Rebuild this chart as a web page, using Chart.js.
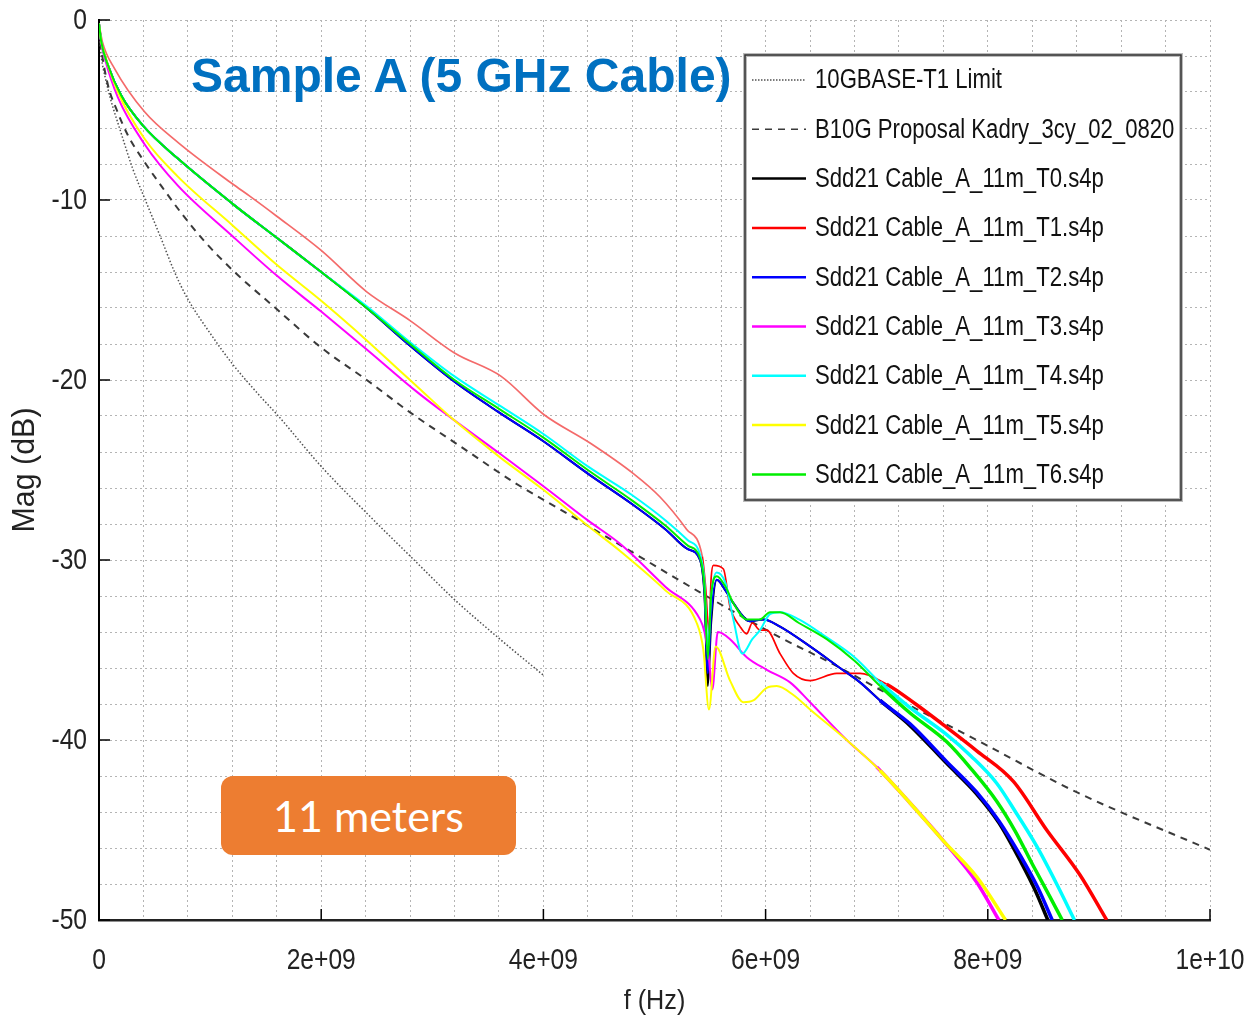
<!DOCTYPE html>
<html>
<head>
<meta charset="utf-8">
<script src="https://cdn.jsdelivr.net/npm/chart.js@4.4.1/dist/chart.umd.min.js"></script>
<style>
  body { margin: 0; background: #fff; }
  #wrap { position: relative; width: 1249px; height: 1020px; }
  #title { position: absolute; left: 191px; top: 52px; font: bold 48px "Liberation Sans", Arial, sans-serif; line-height: 48px; color: #0070c0; white-space: nowrap; }
  #tag { position: absolute; left: 221px; top: 776px; width: 295px; height: 79px; border-radius: 12px; background: #ed7d31; color: #fff; font: 43px Lato, sans-serif; display: flex; align-items: center; justify-content: center; }
</style>
</head>
<body>
<div id="wrap">
  <canvas id="myChart"></canvas>
  <div id="title">Sample A (5 GHz Cable)</div>
  <div id="tag">11 meters</div>
</div>
<script>
// frequencies in GHz, magnitudes in dB
var fLimit = [0, 0.02, 0.06, 0.1, 0.2, 0.3, 0.41, 0.55, 0.68, 0.79, 1.0, 1.2, 1.45, 1.6, 2.0, 2.41, 2.82, 3.2, 3.59, 4.0];
var dbLimit = [-0.6, -2.0, -3.3, -4.3, -6.3, -8.2, -9.9, -12.0, -14.0, -15.4, -17.4, -19.1, -20.9, -21.9, -24.8, -27.4, -29.9, -32.2, -34.3, -36.4];

var fProp = [0, 0.02, 0.08, 0.16, 0.26, 0.4, 0.57, 0.75, 0.95, 1.22, 1.57, 2.0, 2.41, 2.8, 3.28, 3.74, 4.21, 4.7, 5.41, 6.13, 6.55, 7.21, 7.93, 8.8, 10.0];
var dbProp = [-0.5, -1.6, -3.6, -5.0, -6.4, -7.8, -9.3, -10.8, -12.3, -14.0, -15.9, -18.2, -20.0, -21.8, -23.8, -25.7, -27.4, -29.2, -31.8, -34.3, -35.6, -37.8, -40.1, -42.9, -46.1];

var fT0 = [0, 0.02, 0.08, 0.2, 0.4, 0.71, 1.2, 1.6, 2.0, 2.41, 2.8, 3.2, 3.6, 4.0, 4.4, 4.8, 5.1, 5.3, 5.41, 5.45, 5.48, 5.51, 5.56, 5.64, 5.71, 5.86, 5.98, 6.13, 6.4, 6.67, 6.85, 7.03, 7.3, 7.63, 7.9, 8.1, 8.3, 8.43, 8.54];
var dbT0 = [-0.2, -1.2, -2.5, -4.2, -5.9, -7.7, -10.2, -12.1, -14.0, -16.0, -18.1, -20.1, -21.8, -23.4, -25.2, -26.9, -28.3, -29.4, -30.0, -32.0, -37.0, -33.5, -31.1, -31.7, -32.4, -33.4, -33.3, -33.7, -34.8, -36.0, -36.8, -37.8, -39.2, -41.3, -43.0, -44.6, -46.8, -48.4, -50.0];

var fT1 = [0, 0.03, 0.14, 0.41, 0.71, 1.2, 1.36, 1.6, 2.0, 2.41, 2.8, 3.2, 3.62, 4.0, 4.42, 4.81, 5.05, 5.29, 5.43, 5.46, 5.49, 5.51, 5.53, 5.62, 5.68, 5.77, 5.83, 5.88, 5.95, 6.01, 6.13, 6.25, 6.4, 6.64, 6.85, 7.09, 7.35, 7.63, 7.9, 8.23, 8.53, 8.83, 9.07];
var dbT1 = [-0.2, -1.2, -2.7, -5.1, -6.8, -9.1, -9.8, -10.9, -12.8, -15.1, -16.7, -18.5, -19.8, -21.9, -23.5, -25.2, -26.5, -28.3, -29.8, -31.5, -34.0, -31.0, -30.3, -30.5, -32.6, -33.7, -34.1, -33.5, -33.9, -33.9, -35.2, -36.3, -36.7, -36.3, -36.3, -36.9, -38.0, -39.3, -40.6, -42.3, -45.0, -47.5, -50.0];

var fT2 = [0, 0.02, 0.08, 0.2, 0.4, 0.71, 1.2, 1.6, 2.0, 2.41, 2.8, 3.2, 3.6, 4.0, 4.4, 4.8, 5.1, 5.3, 5.41, 5.45, 5.48, 5.51, 5.56, 5.64, 5.71, 5.86, 5.98, 6.13, 6.4, 6.67, 6.85, 7.03, 7.3, 7.63, 7.9, 8.1, 8.3, 8.45, 8.58];
var dbT2 = [-0.2, -1.2, -2.5, -4.2, -5.9, -7.7, -10.2, -12.1, -14.0, -16.0, -18.1, -20.1, -21.8, -23.4, -25.2, -26.9, -28.3, -29.4, -30.0, -31.8, -36.3, -33.0, -31.1, -31.7, -32.4, -33.4, -33.3, -33.7, -34.8, -36.0, -36.8, -37.8, -39.1, -41.2, -42.9, -44.5, -46.5, -48.2, -50.0];

var fT3 = [0, 0.02, 0.05, 0.17, 0.41, 0.71, 1.2, 1.6, 2.0, 2.41, 2.87, 3.19, 3.61, 4.0, 4.4, 4.69, 5.1, 5.41, 5.45, 5.49, 5.52, 5.57, 5.68, 5.83, 6.01, 6.22, 6.4, 6.73, 7.0, 7.3, 7.6, 7.9, 8.1];
var dbT3 = [-0.2, -1.3, -2.1, -4.3, -6.9, -9.2, -12.0, -14.2, -16.2, -18.3, -20.7, -22.2, -24.1, -25.9, -27.8, -29.1, -31.5, -33.3, -34.0, -35.5, -37.2, -34.0, -34.4, -35.4, -36.1, -36.8, -37.9, -40.0, -41.5, -43.5, -45.6, -47.9, -50.0];

var fT4 = [0, 0.02, 0.08, 0.2, 0.4, 0.71, 1.2, 1.6, 2.0, 2.41, 2.8, 3.2, 3.6, 4.0, 4.4, 4.8, 5.1, 5.3, 5.41, 5.45, 5.48, 5.51, 5.56, 5.64, 5.71, 5.79, 5.88, 5.95, 6.04, 6.13, 6.3, 6.55, 6.8, 7.03, 7.3, 7.63, 7.85, 8.08, 8.25, 8.44, 8.62, 8.78];
var dbT4 = [-0.2, -1.2, -2.5, -4.2, -5.9, -7.7, -10.2, -12.1, -14.0, -15.9, -17.9, -19.8, -21.4, -23.0, -24.8, -26.4, -27.8, -28.9, -29.7, -31.2, -35.0, -32.0, -30.7, -31.3, -33.3, -35.2, -34.4, -33.9, -33.0, -32.9, -33.3, -34.3, -35.4, -36.8, -38.2, -39.7, -40.9, -42.4, -44.0, -45.9, -48.0, -50.0];

var fT5 = [0, 0.02, 0.05, 0.17, 0.41, 0.71, 1.2, 1.6, 2.0, 2.41, 2.71, 2.87, 3.19, 3.61, 4.0, 4.4, 4.69, 5.1, 5.38, 5.44, 5.49, 5.55, 5.68, 5.8, 5.89, 6.01, 6.1, 6.25, 6.4, 6.73, 7.03, 7.3, 7.6, 7.9, 8.16];
var dbT5 = [-0.2, -1.2, -1.9, -4.0, -6.6, -8.7, -11.4, -13.6, -15.6, -17.8, -19.5, -20.4, -22.2, -24.3, -26.1, -28.1, -29.5, -31.7, -33.5, -35.0, -38.3, -34.8, -36.7, -37.9, -37.8, -37.1, -37.0, -37.5, -38.3, -40.0, -41.7, -43.5, -45.6, -47.6, -50.0];

var fT6 = [0, 0.02, 0.08, 0.2, 0.4, 0.71, 1.2, 1.6, 2.0, 2.41, 2.8, 3.2, 3.6, 4.0, 4.4, 4.8, 5.1, 5.3, 5.41, 5.45, 5.48, 5.51, 5.56, 5.64, 5.71, 5.83, 5.95, 6.04, 6.13, 6.3, 6.55, 6.8, 7.03, 7.3, 7.63, 7.85, 8.08, 8.25, 8.41, 8.55, 8.67];
var dbT6 = [-0.2, -1.2, -2.5, -4.2, -5.9, -7.7, -10.2, -12.1, -14.0, -16.0, -18.0, -20.0, -21.6, -23.2, -25.0, -26.7, -28.1, -29.2, -29.9, -31.5, -35.5, -32.0, -30.9, -31.5, -32.4, -33.3, -33.3, -32.9, -32.9, -33.5, -34.4, -35.6, -37.0, -38.5, -40.1, -41.6, -43.4, -45.1, -47.0, -48.6, -50.0];

var names = ['10GBASE-T1 Limit', 'B10G Proposal Kadry_3cy_02_0820',
  'Sdd21 Cable_A_11m_T0.s4p', 'Sdd21 Cable_A_11m_T1.s4p', 'Sdd21 Cable_A_11m_T2.s4p',
  'Sdd21 Cable_A_11m_T3.s4p', 'Sdd21 Cable_A_11m_T4.s4p', 'Sdd21 Cable_A_11m_T5.s4p',
  'Sdd21 Cable_A_11m_T6.s4p'];
var colors = ['#505050', '#3a3a3a', '#000000', '#ff0000', '#0000ff', '#ff00ff', '#00ffff', '#ffff00', '#00ee00'];

var xMajor = [0, 2e9, 4e9, 6e9, 8e9, 1e10];
var xLabels = ['0', '2e+09', '4e+09', '6e+09', '8e+09', '1e+10'];
var yMajor = [0, -10, -20, -30, -40, -50];
var yLabels = ['0', '-10', '-20', '-30', '-40', '-50'];

var xGrid = [];
for (var i = 0; i <= 25; i++) xGrid.push(i * 4e8);
var yGrid = [];
for (var j = 0; j <= 25; j++) yGrid.push(-j * 2);

function pts(f, db) {
  return f.map(function (v, k) { return { x: v * 1e9, y: db[k] }; });
}

var series = [[fLimit, dbLimit], [fProp, dbProp], [fT0, dbT0], [fT1, dbT1], [fT2, dbT2],
  [fT3, dbT3], [fT4, dbT4], [fT5, dbT5], [fT6, dbT6]];

var datasets = series.map(function (s, i) {
  var ds = {
    label: names[i],
    data: pts(s[0], s[1]),
    borderColor: colors[i],
    borderWidth: 2,
    pointRadius: 0,
    cubicInterpolationMode: 'monotone',
    order: -i
  };
  if (i === 0) { ds.borderWidth = 1.5; ds.borderDash = [1.5, 2]; }
  if (i === 1) { ds.borderDash = [7, 6]; }
  if (i >= 2) {
    ds.segment = { borderWidth: function (c) { return c.p0.parsed.x > 6.9e9 ? 3.5 : undefined; } };
  }
  if (i === 3) {
    ds.borderWidth = 1.7;
    ds.segment.borderColor = function (c) { return c.p0.parsed.x < 5.4e9 ? '#f46a6a' : undefined; };
  }
  return ds;
});

var sans = '"Liberation Sans", Arial, sans-serif';

// draw text squeezed horizontally (the original uses a narrow face)
function narrowText(c, txt, x, y, size, align, squeeze) {
  c.save();
  c.translate(x, y);
  c.scale(squeeze, 1);
  c.font = size + 'px ' + sans;
  c.textAlign = align;
  c.textBaseline = 'middle';
  c.fillText(txt, 0, 0);
  c.restore();
}

var frame = {
  id: 'frame',
  afterDraw: function (chart) {
    var c = chart.ctx, xs = chart.scales.x, ys = chart.scales.y;
    c.save();
    c.strokeStyle = '#000';
    c.lineWidth = 1.5;
    c.fillStyle = '#222';
    xMajor.forEach(function (v, k) {
      var px = xs.getPixelForValue(v);
      c.beginPath(); c.moveTo(px, ys.bottom); c.lineTo(px, ys.bottom - 11); c.stroke();
      narrowText(c, xLabels[k], px, ys.bottom + 41, 30, 'center', 0.82);
    });
    yMajor.forEach(function (v, k) {
      var py = ys.getPixelForValue(v);
      c.beginPath(); c.moveTo(xs.left, py); c.lineTo(xs.left + 11, py); c.stroke();
      narrowText(c, yLabels[k], xs.left - 12, py + 1, 30, 'right', 0.82);
    });
    narrowText(c, 'f (Hz)', (xs.left + xs.right) / 2, 1001, 28, 'center', 0.9);
    c.save();
    c.translate(25, (ys.top + ys.bottom) / 2);
    c.rotate(-Math.PI / 2);
    narrowText(c, 'Mag (dB)', 0, 0, 32, 'center', 0.95);
    c.restore();

    // legend box
    var bx = 745, by = 55, bw = 436, bh = 445;
    c.fillStyle = '#fff';
    c.fillRect(bx, by, bw, bh);
    c.strokeStyle = '#bbb'; c.lineWidth = 4;
    c.strokeRect(bx, by, bw, bh);
    c.strokeStyle = '#333'; c.lineWidth = 1.5;
    c.strokeRect(bx, by, bw, bh);
    chart.data.datasets.forEach(function (ds, k) {
      var y = 80 + k * 49.3;
      c.strokeStyle = ds.borderColor;
      c.lineWidth = k < 2 ? 1.5 : 2.5;
      c.setLineDash(k === 0 ? [1.5, 1.5] : (k === 1 ? [7, 6] : []));
      c.beginPath(); c.moveTo(752, y); c.lineTo(806, y); c.stroke();
      c.setLineDash([]);
      c.fillStyle = '#111';
      narrowText(c, ds.label, 815, y + 1, 27, 'left', 0.82);
    });
    c.restore();
  }
};

var ctx = document.getElementById('myChart').getContext('2d');
var myChart = new Chart(ctx, {
  type: 'line',
  data: { datasets: datasets },
  options: {
    responsive: true,
    maintainAspectRatio: false,
    animation: false,
    layout: { padding: { left: 0, right: 39, top: 20, bottom: 0 } },
    plugins: { legend: { display: false }, tooltip: { enabled: false } },
    scales: {
      x: {
        type: 'linear', min: 0, max: 1e10,
        afterBuildTicks: function (s) { s.ticks = xGrid.map(function (v) { return { value: v }; }); },
        afterFit: function (s) { s.height = 100; s.paddingLeft = 0; s.paddingRight = 0; },
        grid: { color: '#b4b4b4', lineWidth: 1, drawTicks: false },
        border: { display: true, color: '#222', width: 2.5, dash: [2, 3] },
        ticks: { display: false, autoSkip: false }
      },
      y: {
        type: 'linear', min: -50, max: 0,
        afterBuildTicks: function (s) { s.ticks = yGrid.map(function (v) { return { value: v }; }); },
        afterFit: function (s) { s.width = 99; s.paddingTop = 0; s.paddingBottom = 0; },
        grid: { color: '#b4b4b4', lineWidth: 1, drawTicks: false },
        border: { display: true, color: '#000', width: 2, dash: [2, 3] },
        ticks: { display: false, autoSkip: false }
      }
    }
  },
  plugins: [frame]
});
</script>
</body>
</html>
